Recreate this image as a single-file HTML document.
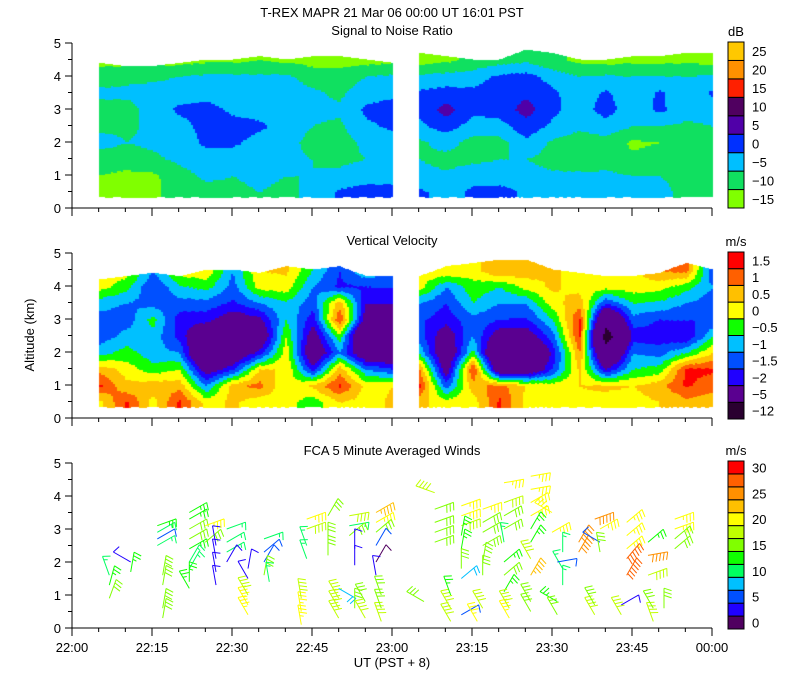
<!DOCTYPE html>
<html><head><meta charset="utf-8"><style>
html,body{margin:0;padding:0;background:#fff;width:800px;height:700px;overflow:hidden}
canvas,svg{position:absolute;left:0;top:0}
text{font-family:"Liberation Sans",sans-serif;font-size:13px;fill:#000}
</style></head><body>
<canvas id="snr" width="800" height="700"></canvas>
<canvas id="vel" width="800" height="700"></canvas>
<svg id="svg" width="800" height="700"></svg>
<script>
// ---------- data ----------
const snrCols1=[5,10,15,20,25,30,35,40,45,50,55,60];
const snrCols2=[65,70,75,80,85,90,95,100,105,110,115,120];
const rowAlts=[0.5,1,1.5,2,2.5,3,3.5,4,4.5];
const snr1=[
[-11,-10,-8,-3,-6,-7,-4,-7,-12],[-12,-11,-8,-5,-6,-7,-4,-6,-12],[-11,-11,-6,-4,-4,-3,-3,-6,-12],
[-8,-7,-4,-3,-2,1,-2,-5,-12],[-7,-4,-2,1,2,2,-2,-4,-11],[-6,-5,-3,1,2,-1,-3,-4,-11],
[-5,-4,-3,-2,1,-2,-3,-4,-10],[-6,-5,-4,-3,-2,-3,-3,-4,-11],[-4,-5,-5,-7,-5,-4,-4,-7,-12],
[1,-4,-6,-7,-6,-4,-6,-8,-12],[2,-2,-5,-4,-1,1,-2,-5,-12],[1,-1,-4,-3,1,2,-1,-4,-11]];
const snr2=[
[1,-3,-5,-6,-1,1,1,-4,-12],[-2,-4,-7,-3,2,7,2,-3,-11],[1,-2,-6,-7,-2,1,1,-2,-9],
[2,-3,-5,-7,-2,2,3,1,-7],[-1,-3,-5,-1,3,7,4,2,-6],[-3,-4,-7,-6,-1,1,1,-2,-9],
[-4,-4,-8,-8,-4,-2,-3,-5,-11],[-4,-4,-7,-7,-2,2,1,-4,-12],[-5,-5,-9,-11,-5,-3,-4,-5,-11],
[-4,-5,-7,-10,-5,1,1,-5,-11],[-6,-6,-7,-9,-6,-3,-4,-5,-11],[-8,-6,-6,-7,-5,-3,1,-4,-12]];
const snrTop1=[4.4,4.3,4.3,4.4,4.5,4.5,4.6,4.5,4.6,4.6,4.5,4.4];
const snrTop2=[4.7,4.6,4.5,4.5,4.8,4.7,4.5,4.5,4.6,4.6,4.7,4.7];
const snrLevels=[-10,-5,0,5,10,15,20,25];
const snrColors=["#80ff00","#10e060","#00bfff","#0030ff","#5000a8","#500060","#ff2000","#ff9000","#ffc800"];
const snrLabels=["25","20","15","10","5","0","\u22125","\u221210","\u221215"];

const vel1=[
[0.3,1.6,0.8,-0.7,-1.3,-1.2,-0.8,0.2,0.2],[1.6,0.6,0.3,-0.3,-0.8,-1.3,-1,-0.3,0.3],[0.3,0.8,-0.3,-0.8,-0.7,-0.3,-1.2,-1.5,-1],
[1.6,0.8,0,-1,-1.7,-1.8,-1.2,-0.6,0.3],[0.3,-1,-2.5,-4,-3,-1.8,-1.2,-0.3,0.4],[0.6,0.8,-1.6,-3,-4,-2.5,-1.6,-1.2,-1],
[0.2,1.2,0.5,-1.8,-3,-2.2,-1,0.2,0.5],[0.2,0,0.5,0.3,0,-0.5,-0.6,0.3,0.6],[-0.3,0.6,-1.8,-3,-2.5,-1.8,-1.3,-1,-0.5],
[0.5,1.6,0.8,-1,-0.2,1.5,0.8,-1.6,-1.5],[0.3,0.3,-1,-3,-4,-2.5,-2,-1.5,-0.5],[0.6,0.5,-1.5,-3,-3,-2.5,-2,-1.5,-1]];
const vel2=[
[0.6,1.6,1,-0.6,-1.3,-1.4,-1,0.2,0.3],[0.3,-1.3,-2.5,-3,-2.5,-1.8,-1.5,-1,0.5],[0.2,0.8,1.6,-0.3,-1,-1.2,-0.5,-0.2,0.3],
[1.6,1.2,-3,-4,-2.5,-1.5,-1,-0.5,1],[0.3,0.5,-3,-4,-2.5,-1.6,-1,0.2,0.8],[0.2,0.3,-1.5,-1.8,-1.2,-0.5,0.3,0.6,0.5],
[0.4,0.5,0.6,1,1.6,1.6,0.8,0.3,0.5],[0.3,0.6,-2,-4,-6,-4,-1.5,0.2,0.4],[0.3,0.5,-0.5,-1,-1.8,-1.2,-0.5,0.3,0.4],
[0.5,0.8,-0.3,-1.2,-1.8,-1.5,-0.6,0.2,1],[0.8,1.6,1.6,-0.5,-2,-1.5,-1,-0.3,1.2],[0.7,1.2,1.6,0.5,-0.5,-1.5,-1.3,-1,-1.5]];
const velTop1=[4.2,4.3,4.4,4.3,4.5,4.5,4.4,4.6,4.5,4.6,4.3,4.3];
const velTop2=[4.3,4.6,4.7,4.8,4.8,4.5,4.4,4.3,4.3,4.4,4.7,4.5];
const velLevels=[-5,-2,-1.5,-1,-0.5,0,0.5,1,1.5];
const velColors=["#2a0030","#5a0090","#2000ff","#0050ff","#00c0ff","#10ff00","#ffff00","#ffc000","#ff6000","#ff0000"];
const velLabels=["1.5","1","0.5","0","\u22120.5","\u22121","\u22121.5","\u22122","\u22125","\u221212"];

const windColors=["#500060","#2000ff","#0050ff","#00c0ff","#00ff60","#10ff00","#80ff00","#c0ff00","#ffff00","#ffc000","#ff9000","#ff6000","#ff0000"];
const windLabels=["30","25","20","15","10","5","0"];
// barbs: minute after 22:00, altitude km, speed m/s, staff angle deg
const barbMin=[7,7,7,11,11,17,17,17,17,16,16,16,16,22,22,22,22,22,22,22,22,22,25,25,27,27,27,27,29,29,29,29,33,33,33,33,33,36,36,36,36,37,44,44,44,44,43,43,43,48,48,48,50,50,50,50,52,52,52,53,53,53,55,55,57,57,57,57,57,57,58,58,58,
68,68,68,68,68,66,73,73,73,73,73,73,73,71,71,71,73,77,77,77,77,77,77,76,77,81,81,81,81,81,81,81,81,82,82,86,86,86,86,86,86,86,86,86,86,90,90,92,92,92,91,91,91,95,95,99,99,99,98,98,98,104,104,104,104,104,103,103,108,108,108,109,109,111,113,113,113,113];
const barbAlt=[0.9,1.3,1.6,1.7,2.0,0.3,0.6,1.3,1.6,2.5,2.7,2.9,3.1,3.5,3.3,3.0,2.7,2.4,2.0,1.8,1.4,1.2,3.1,2.6,2.5,2.1,1.7,1.3,3.0,2.6,2.3,2.0,1.5,1.8,0.4,0.7,1.0,2.7,2.3,2.0,1.6,1.4,2.5,2.1,3.3,3.0,0.1,0.5,0.9,3.4,2.6,2.2,0.3,0.6,0.9,1.2,3.4,3.1,2.8,2.4,1.9,0.6,0.3,0.8,3.5,3.2,2.9,2.5,2.0,1.6,0.2,0.6,1.0,
4.1,3.6,3.2,2.9,2.6,0.8,3.7,3.4,3.1,2.8,2.4,1.5,1.8,0.2,0.6,1.0,0.4,3.6,3.2,2.9,2.5,2.0,1.6,0.2,0.6,4.4,3.8,3.4,3.0,2.6,2.0,1.6,1.1,0.3,0.6,4.6,4.2,3.8,3.4,3.0,2.6,2.1,1.6,0.5,0.8,3.5,2.9,2.3,1.8,1.3,2.0,0.8,0.4,2.6,2.3,3.0,2.6,2.3,3.3,0.4,0.7,3.2,2.8,2.4,2.1,1.6,0.4,0.7,2.6,2.2,1.6,0.2,0.6,0.6,3.3,3.0,2.7,2.4];
const barbSpd=[16,14,10,14,4,17,17,17,17,10,6,10,14,14,14,15,15,14,10,10,14,14,20,15,4,4,4,4,10,10,10,4,3,4,22,20,19,10,6,6,15,10,10,10,21,19,21,20,19,16,15,15,18,18,19,9,18,10,15,4,4,15,18,17,24,20,16,6,2,4,18,17,15,
18,17,17,16,15,17,22,20,19,14,14,8,15,19,18,14,6,22,17,17,17,16,15,20,19,20,18,16,15,10,14,16,14,20,18,22,20,22,22,14,14,18,24,17,15,21,21,10,10,10,5,14,17,26,26,22,7,15,26,19,17,22,22,21,28,28,18,3,14,25,19,19,17,15,20,20,16,15];
const barbAng=[70,75,110,80,150,80,80,80,80,30,30,30,20,30,30,30,30,30,60,60,90,120,20,40,100,100,100,100,20,30,30,60,120,80,120,120,120,20,40,60,80,100,110,110,20,20,100,100,100,60,90,90,120,120,120,-30,10,10,40,90,90,90,120,120,30,30,40,60,60,100,110,110,110,
160,20,20,20,20,150,20,20,20,80,80,40,90,120,120,110,30,20,30,30,30,80,90,120,120,10,20,30,30,100,40,40,60,120,120,10,10,30,30,60,60,120,60,120,120,150,30,90,120,90,10,150,120,60,60,30,150,100,20,120,120,40,40,40,50,60,120,30,40,10,20,110,120,90,20,20,40,40];

// ---------- geometry ----------
const X0=72, PXMIN=80/15;
const xOf=m=>X0+m*PXMIN;
const panels=[{y0:208},{y0:418},{y0:628}];
const KM=33;
const yOf=(p,a)=>panels[p].y0-a*KM;

function quant(v,levels){let i=0;while(i<levels.length&&v>=levels[i])i++;return i;}
function drawField(ctx,p,cols,grid,tops,levels,colors){
  const xs=xOf(cols[0]),xe=xOf(cols[cols.length-1]);
  for(let px=Math.round(xs);px<xe;px+=2){
    const m=(px-X0)/PXMIN;
    let i=0;while(i<cols.length-2&&m>cols[i+1])i++;
    let f=(m-cols[i])/(cols[i+1]-cols[i]);f=Math.max(0,Math.min(1,f));
    const top=tops[i]*(1-f)+tops[i+1]*f;
    const yt=yOf(p,top),yb=yOf(p,0.35);
    for(let py=Math.round(yt);py<yb;py+=2){
      const a=(panels[p].y0-py)/KM;
      let r=(a-0.5)/0.5;r=Math.max(0,Math.min(8,r));
      const r0=Math.min(7,Math.floor(r)),g=r-r0;
      const v=(grid[i][r0]*(1-g)+grid[i][r0+1]*g)*(1-f)+(grid[i+1][r0]*(1-g)+grid[i+1][r0+1]*g)*f;
      ctx.fillStyle=colors[quant(v,levels)];
      ctx.fillRect(px,py,2,2);
    }
  }
}
const c1=document.getElementById('snr').getContext('2d');
drawField(c1,0,snrCols1,snr1,snrTop1,snrLevels,snrColors);
drawField(c1,0,snrCols2,snr2,snrTop2,snrLevels,snrColors);
const c2=document.getElementById('vel').getContext('2d');
drawField(c2,1,snrCols1,vel1,velTop1,velLevels,velColors);
drawField(c2,1,snrCols2,vel2,velTop2,velLevels,velColors);

// ---------- SVG ----------
const svg=document.getElementById('svg');const NS="http://www.w3.org/2000/svg";
function el(tag,attrs,parent){const e=document.createElementNS(NS,tag);for(const k in attrs)e.setAttribute(k,attrs[k]);(parent||svg).appendChild(e);return e;}
function txt(x,y,s,anchor,name,extra){const t=el('text',Object.assign({x:x,y:y,'text-anchor':anchor||'start'},extra||{}));t.textContent=s;


return t;}

txt(392,17,"T-REX   MAPR 21 Mar 06   00:00 UT   16:01   PST","middle","main-title",{'xml:space':'preserve'});
txt(392,35,"Signal to Noise Ratio","middle","snr-title");
txt(392,245,"Vertical Velocity","middle","velocity-title");
txt(392,455,"FCA 5 Minute Averaged Winds","middle","winds-title");
txt(34,335,"Altitude (km)","middle","y-axis-title",{transform:"rotate(-90 34 335)",'font-size':'12px'});
txt(392,667,"UT  (PST + 8)","middle","x-axis-title",{'xml:space':'preserve'});
const xLabels=["22:00","22:15","22:30","22:45","23:00","23:15","23:30","23:45","00:00"];

for(let p=0;p<3;p++){
  const g=el('g',{});
  
  
  const y0=panels[p].y0;
  el('line',{x1:X0,y1:y0,x2:712,y2:y0,stroke:'#000'},g);
  el('line',{x1:X0,y1:y0,x2:X0,y2:y0-5*KM,stroke:'#000'},g);
  for(let k=0;k<=10;k++){const y=y0-k*KM/2;el('line',{x1:X0-(k%2?4:7),y1:y,x2:X0,y2:y,stroke:'#000'},g);
    if(k%2==0)txt(61,y+5,String(k/2),"end","y-tick-label");}
  for(let m=0;m<=120;m+=5){const x=xOf(m);el('line',{x1:x,y1:y0,x2:x,y2:y0+(m%15?4:8),stroke:'#000'},g);}
}
xLabels.forEach((s,i)=>txt(xOf(i*15),652,s,"middle","x-tick-label"));

function colorbar(top,bot,colors,labels,unit,name){
  const g=el('g',{});
  
  
  const n=colors.length,h=(bot-top)/n;
  for(let i=0;i<n;i++){el('rect',{x:728,y:top+(n-1-i)*h,width:16,height:h,fill:colors[i],stroke:'#000','stroke-width':1},g);}
  const step=(n-1)/(labels.length-1);
  labels.forEach((s,j)=>{const bin=n-1-j*step;txt(752,top+(n-1-bin)*h+h/2+5,s,"start","colorbar-label");});
  txt(736,top-6,unit,"middle","colorbar-unit");
}
colorbar(42,208,snrColors,snrLabels,"dB","snr-colorbar");
colorbar(252,419,velColors,velLabels,"m/s","velocity-colorbar");
colorbar(461,629,windColors,windLabels,"m/s","wind-colorbar");

// wind barbs
const bg=el('g',{});


for(let i=0;i<barbMin.length;i++){
  const x=xOf(barbMin[i]),y=yOf(2,barbAlt[i]),s=barbSpd[i],a=barbAng[i]*Math.PI/180;
  const col=windColors[Math.max(0,Math.min(12,Math.floor(s/2.5)))];
  const L=20,ex=x+L*Math.cos(a),ey=y-L*Math.sin(a);
  let d=`M${x.toFixed(1)} ${y.toFixed(1)}L${ex.toFixed(1)} ${ey.toFixed(1)}`;
  const nb=Math.max(1,Math.round(s/5));
  const ba=a-Math.PI*0.6;
  for(let k=0;k<nb;k++){
    const t=1-k*0.18,bx=x+L*t*Math.cos(a),by=y-L*t*Math.sin(a);
    const bl=(k==nb-1&&s%10<5&&nb>1)?4:8;
    d+=`M${bx.toFixed(1)} ${by.toFixed(1)}l${(bl*Math.cos(ba)).toFixed(1)} ${(-bl*Math.sin(ba)).toFixed(1)}`;
  }
  const pth=el('path',{d:d,stroke:col,fill:'none','stroke-width':1},bg);
  
  
}
</script>
</body></html>
